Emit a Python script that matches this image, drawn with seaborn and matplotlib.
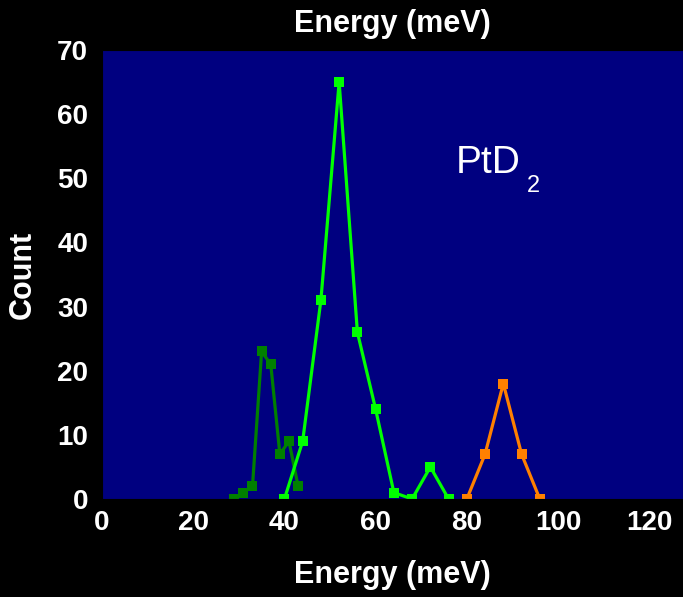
import matplotlib
matplotlib.use("Agg")
import matplotlib.pyplot as plt
import seaborn as sns
import pandas as pd
from matplotlib.ticker import MultipleLocator

# Peak histograms (energy in meV, counts)
low_energy = [29, 31, 33, 35, 37, 39, 41, 43]
low_count = [0, 1, 2, 23, 21, 7, 9, 2]

mid_energy = [40, 44, 48, 52, 56, 60, 64, 68, 72, 76]
mid_count = [0, 9, 31, 65, 26, 14, 1, 0, 5, 0]

high_energy = [80, 84, 88, 92, 96]
high_count = [0, 7, 18, 7, 0]

series_names = ["low", "mid", "high"]
series_colors = ["#008000", "#00FF00", "#FF8000"]

x_ticks = [0, 20, 40, 60, 80, 100, 120]
y_ticks = [0, 10, 20, 30, 40, 50, 60, 70]

frames = []
for name, xs, ys in zip(series_names,
                        [low_energy, mid_energy, high_energy],
                        [low_count, mid_count, high_count]):
    frames.append(pd.DataFrame({"energy": xs, "count": ys, "series": name}))
df = pd.concat(frames, ignore_index=True)

sns.set_style("dark")
plt.rcParams["font.family"] = ["Liberation Sans", "DejaVu Sans"]

fig = plt.figure(figsize=(6.83, 5.97), dpi=100, facecolor="black")
ax = fig.add_axes([102 / 683, 98 / 597, 581 / 683, 449 / 597])
ax.set_facecolor("#000080")
ax.grid(False)

sns.lineplot(data=df, x="energy", y="count", hue="series",
             hue_order=series_names, palette=series_colors,
             estimator=None, sort=False, legend=False,
             marker="s", markersize=7, markeredgewidth=0,
             linewidth=2.3, ax=ax)

ax.set_xlim(0, 127.4)
ax.set_ylim(0, 70)
ax.set_xticks(x_ticks)
ax.set_yticks(y_ticks)
ax.xaxis.set_minor_locator(MultipleLocator(10))
ax.yaxis.set_minor_locator(MultipleLocator(5))

ax.tick_params(axis="both", which="both", direction="in", colors="black",
               labelcolor="white", labelsize=20)
ax.tick_params(axis="both", which="major", length=7, width=2)
ax.tick_params(axis="both", which="minor", length=3.5, width=2)
ax.tick_params(axis="x", pad=8)
ax.tick_params(axis="y", pad=10)
for lbl in ax.get_xticklabels() + ax.get_yticklabels():
    lbl.set_fontweight("bold")

for side in ax.spines.values():
    side.set_color("black")

ax.set_xlabel("Energy (meV)", color="white", fontsize=22, fontweight="bold",
              labelpad=17)
ax.set_ylabel("Count", color="white", fontsize=22, fontweight="bold",
              labelpad=14)
ax.text(0.5, 1.025, "Energy (meV)", transform=ax.transAxes, ha="center",
        va="bottom", color="white", fontsize=22, fontweight="bold")

ax.text(77.6, 50.8, "PtD", color="white", fontsize=28, ha="left",
        va="baseline")
ax.text(93.2, 47.9, "2", color="white", fontsize=17, ha="left",
        va="baseline")

fig.savefig("out.png", dpi=100, facecolor="black")
